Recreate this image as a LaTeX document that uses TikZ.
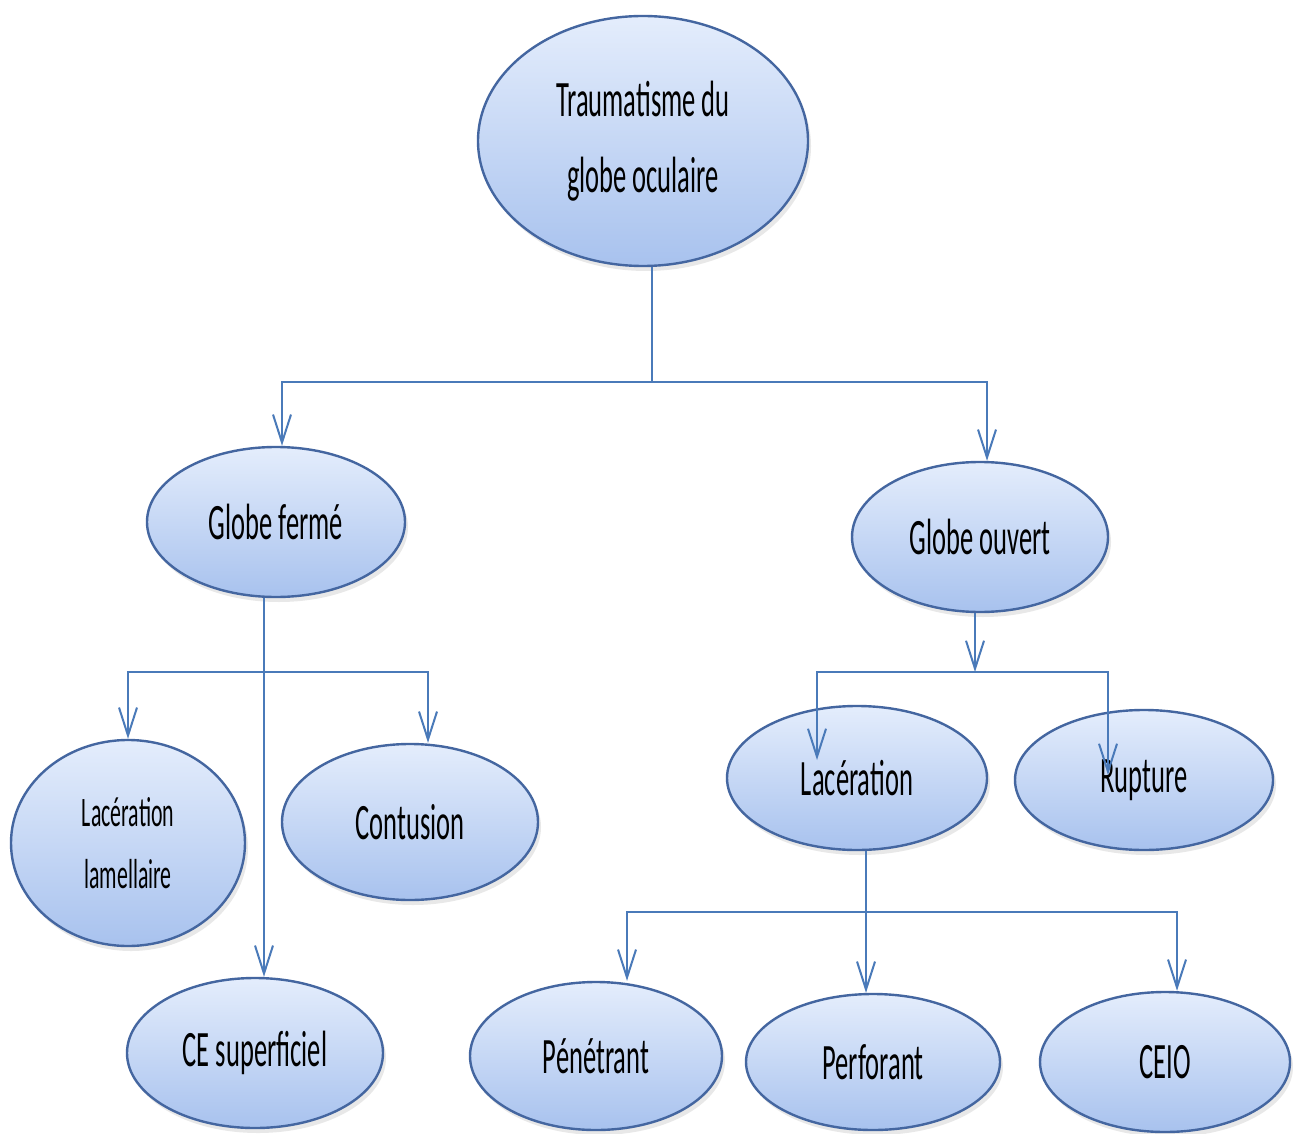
\documentclass[tikz,border=0pt]{standalone}
\usepackage{fontspec}
\setmainfont[FakeStretch=0.52]{Carlito}
\usepackage{tikz}
\usetikzlibrary{shapes.geometric,arrows.meta,shadows}
\definecolor{ovalline}{RGB}{68,102,160}
\definecolor{ovaltop}{RGB}{228,237,252}
\definecolor{ovalbot}{RGB}{168,194,238}
\definecolor{linkblue}{RGB}{74,122,185}
\begin{document}
\begin{tikzpicture}[x=0.5pt,y=-0.5pt,
  oval/.style={ellipse,draw=ovalline,line width=1.2pt,top color=ovaltop,bottom color=ovalbot,inner sep=0pt,align=center,
    drop shadow={opacity=0.18,fill=gray,shadow xshift=1.5pt,shadow yshift=-2.5pt},font=\fontsize{25.5}{38}\selectfont},
  link/.style={draw=linkblue,line width=1pt},
  >={Straight Barb[length=14pt,width=9pt]}]
\useasboundingbox (0,0) rectangle (1293,1133);
\fill[white] (0,0) rectangle (1293,1133);
\node[oval,minimum width=165pt,minimum height=125pt] (trauma) at (643,141) {Traumatisme du\\globe oculaire};
\node[oval,minimum width=129pt,minimum height=75pt] (ferme) at (276,522) {Globe fermé};
\node[oval,minimum width=128pt,minimum height=75pt] (ouvert) at (980,537) {Globe ouvert};
\node[oval,minimum width=117pt,minimum height=103pt,font=\fontsize{21}{31}\selectfont] (lamel) at (128,843) {Lacération\\lamellaire};
\node[oval,minimum width=128pt,minimum height=78pt] (contus) at (410,822) {Contusion};
\node[oval,minimum width=128pt,minimum height=75pt] (cesup) at (255,1053) {CE superficiel};
\node[oval,minimum width=130pt,minimum height=72pt] (lacer) at (857,778) {Lacération};
\node[oval,minimum width=129pt,minimum height=70pt] (rupt) at (1144,780) {Rupture};
\node[oval,minimum width=126pt,minimum height=74pt] (penet) at (596,1056) {Pénétrant};
\node[oval,minimum width=127pt,minimum height=68pt] (perfo) at (873,1062) {Perforant};
\node[oval,minimum width=125pt,minimum height=70pt] (ceio) at (1165,1062) {CEIO};
\coordinate (b1) at (652,382);
\coordinate (b2) at (264,672);
\coordinate (b3) at (975,672);
\coordinate (b4) at (866,912);
\draw[link] (trauma.south -| b1) -- (b1);
\draw[link,->] (b1) -| ([xshift=3pt]ferme.north);
\draw[link,->] (b1) -| ([xshift=3.5pt]ouvert.north);
\draw[link,->] (ferme.south -| b2) -- (cesup.north -| b2);
\draw[link,->] (b2) -| (lamel.north);
\draw[link,->] (b2) -| ([xshift=9pt]contus.north);
\draw[link,->] (ouvert.south -| b3) -- (b3);
\draw[link,->] (b3) -| ([xshift=-20pt,yshift=9pt]lacer.center);
\draw[link,->] (b3) -| ([xshift=-18pt,yshift=2.5pt]rupt.center);
\draw[link,->] (lacer.south -| b4) -- (perfo.north -| b4);
\draw[link,->] (b4) -| ([xshift=15.5pt]penet.north);
\draw[link,->] (b4) -| ([xshift=6pt]ceio.north);
\end{tikzpicture}
\end{document}
